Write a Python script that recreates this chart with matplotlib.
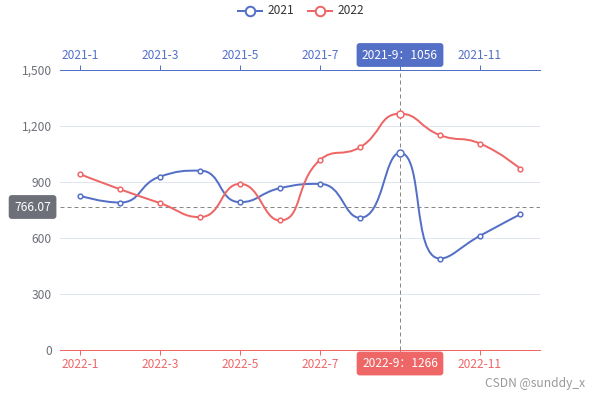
import matplotlib.pyplot as plt
from matplotlib.path import Path
from matplotlib.patches import PathPatch
import numpy as np

months_2021 = ['2021-1', '2021-2', '2021-3', '2021-4', '2021-5', '2021-6',
               '2021-7', '2021-8', '2021-9', '2021-10', '2021-11', '2021-12']
months_2022 = ['2022-1', '2022-2', '2022-3', '2022-4', '2022-5', '2022-6',
               '2022-7', '2022-8', '2022-9', '2022-10', '2022-11', '2022-12']
v2021 = [826, 790, 929, 961, 792, 867, 890, 708, 1056, 490, 612, 726]
v2022 = [942, 861, 787, 712, 890, 694, 1018, 1086, 1266, 1151, 1106, 972]
y_ticks = [0, 300, 600, 900, 1200, 1500]
pointer_index = 8
pointer_value = 766.07

BLUE = '#5470c6'
RED = '#ee6666'
GRAY = '#6E7079'
GRID = '#E0E6F1'
PX = 0.72  # points per pixel at dpi 100

plt.rcParams['font.family'] = ['Microsoft YaHei', 'Noto Sans CJK SC', 'DejaVu Sans']
plt.rcParams['font.size'] = 12 * PX

fig = plt.figure(figsize=(6, 3.99), dpi=100)
ax = fig.add_axes([0.1, (399 - 350) / 399, 0.8, 280 / 399])
n = len(v2021)
ax.set_xlim(-0.5, n - 0.5)
ax.set_ylim(0, 1500)


def smooth_curve(xs, ys, smooth=0.5):
    # echarts-like smoothing done in pixel space
    pts = ax.transData.transform(np.column_stack([xs, ys]))
    px, py = pts[:, 0], pts[:, 1]
    m = len(px)
    cin = [(px[i], py[i]) for i in range(m)]
    cout = [(px[i], py[i]) for i in range(m)]
    for i in range(1, m - 1):
        x, y = px[i], py[i]
        x0, y0 = px[i - 1], py[i - 1]
        x1, y1 = px[i + 1], py[i + 1]
        l0 = np.hypot(x - x0, y - y0)
        l1 = np.hypot(x1 - x, y1 - y)
        r = l1 / (l0 + l1)
        vx, vy = x1 - x0, y1 - y0
        ox = x + vx * smooth * r
        oy = y + vy * smooth * r
        ox = min(max(ox, min(x1, x)), max(x1, x))
        oy = min(max(oy, min(y1, y)), max(y1, y))
        ix = x - (ox - x) * l0 / l1
        iy = y - (oy - y) * l0 / l1
        ix = min(max(ix, min(x0, x)), max(x0, x))
        iy = min(max(iy, min(y0, y)), max(y0, y))
        ox = x + (x - ix) * l1 / l0
        oy = y + (y - iy) * l1 / l0
        cin[i] = (ix, iy)
        cout[i] = (ox, oy)
    verts = [(px[0], py[0])]
    codes = [Path.MOVETO]
    for i in range(1, m):
        verts += [cout[i - 1], cin[i], (px[i], py[i])]
        codes += [Path.CURVE4] * 3
    verts = ax.transData.inverted().transform(np.array(verts))
    return Path(verts, codes)


xs = np.arange(n)
for vals, col in [(v2021, BLUE), (v2022, RED)]:
    ax.add_patch(PathPatch(smooth_curve(xs, vals), facecolor='none',
                           edgecolor=col, lw=2 * PX, zorder=3))
    ax.scatter(xs, vals, s=3.4 ** 2, facecolor='white',
               edgecolor=col, linewidth=1.5 * PX, zorder=4)
    ax.scatter([pointer_index], [vals[pointer_index]], s=5 ** 2, facecolor='white',
               edgecolor=col, linewidth=1.5 * PX, zorder=5)

# grid and y axis
ax.set_yticks(y_ticks)
ax.set_yticklabels([f'{t:,}' for t in y_ticks], color=GRAY)
ax.tick_params(axis='y', length=0, pad=8 * PX)
for t in y_ticks:
    ax.axhline(t, color=GRID, lw=1 * PX, zorder=1)
for s in ['left', 'right', 'top']:
    ax.spines[s].set_visible(False)
ax.spines['bottom'].set_color(RED)
ax.spines['bottom'].set_linewidth(1 * PX)

ax.set_xticks(xs[::2])
ax.set_xticklabels(months_2022[::2], color=RED)
ax.tick_params(axis='x', colors=RED, length=5 * PX, width=1 * PX, pad=3 * PX,
               labelcolor=RED)

ax2 = ax.twiny()
ax2.set_xlim(ax.get_xlim())
ax2.set_xticks(xs[::2])
ax2.set_xticklabels(months_2021[::2])
ax2.tick_params(axis='x', colors=BLUE, length=5 * PX, width=1 * PX, pad=3 * PX,
                labelcolor=BLUE)
for s in ['left', 'right', 'bottom']:
    ax2.spines[s].set_visible(False)
ax2.spines['top'].set_color(BLUE)
ax2.spines['top'].set_linewidth(1 * PX)

# pointer boxes cover the tick labels underneath
ax.get_xticklabels()[pointer_index // 2].set_visible(False)
ax2.get_xticklabels()[pointer_index // 2].set_visible(False)

# cross pointer
ax.axvline(pointer_index, color='#888888', lw=1 * PX, ls=(0, (4, 3)), zorder=2)
ax.axhline(pointer_value, color='#888888', lw=1 * PX, ls=(0, (4, 3)), zorder=2)

box = 'round,pad=0.45,rounding_size=0.25'
ax2.text(pointer_index, 1 + 15 / 280, f'{months_2021[pointer_index]}：{v2021[pointer_index]}',
         transform=ax2.get_xaxis_transform(), ha='center', va='center', color='white',
         clip_on=False, zorder=10, bbox=dict(boxstyle=box, fc=BLUE, ec='none'))
ax2.text(pointer_index, -13.5 / 280, f'{months_2022[pointer_index]}：{v2022[pointer_index]}',
         transform=ax.get_xaxis_transform(), ha='center', va='center', color='white',
         clip_on=False, zorder=10, bbox=dict(boxstyle=box, fc=RED, ec='none'))
ax2.text(-9 / 480, pointer_value, f'{pointer_value:.2f}', transform=ax.get_yaxis_transform(),
         ha='right', va='center', color='white', clip_on=False, zorder=10,
         bbox=dict(boxstyle=box, fc=GRAY, ec='none'))

# legend
for lx, col, name in [(250, BLUE, '2021'), (320, RED, '2022')]:
    fy = 1 - 11 / 399
    fig.add_artist(plt.Line2D([(lx - 12) / 600, (lx + 12) / 600], [fy, fy],
                              color=col, lw=2 * PX, transform=fig.transFigure))
    fig.add_artist(plt.Line2D([lx / 600], [fy], marker='o', ms=9.5 * PX, mfc='white',
                              mec=col, mew=2 * PX, transform=fig.transFigure))
    fig.text((lx + 18) / 600, fy, name, ha='left', va='center', color='#333333')

fig.text(585 / 600, 1 - 383 / 399, 'CSDN @sunddy_x', ha='right', va='center',
         color='#999999', fontsize=12 * PX)

fig.savefig('out.png', dpi=100)
